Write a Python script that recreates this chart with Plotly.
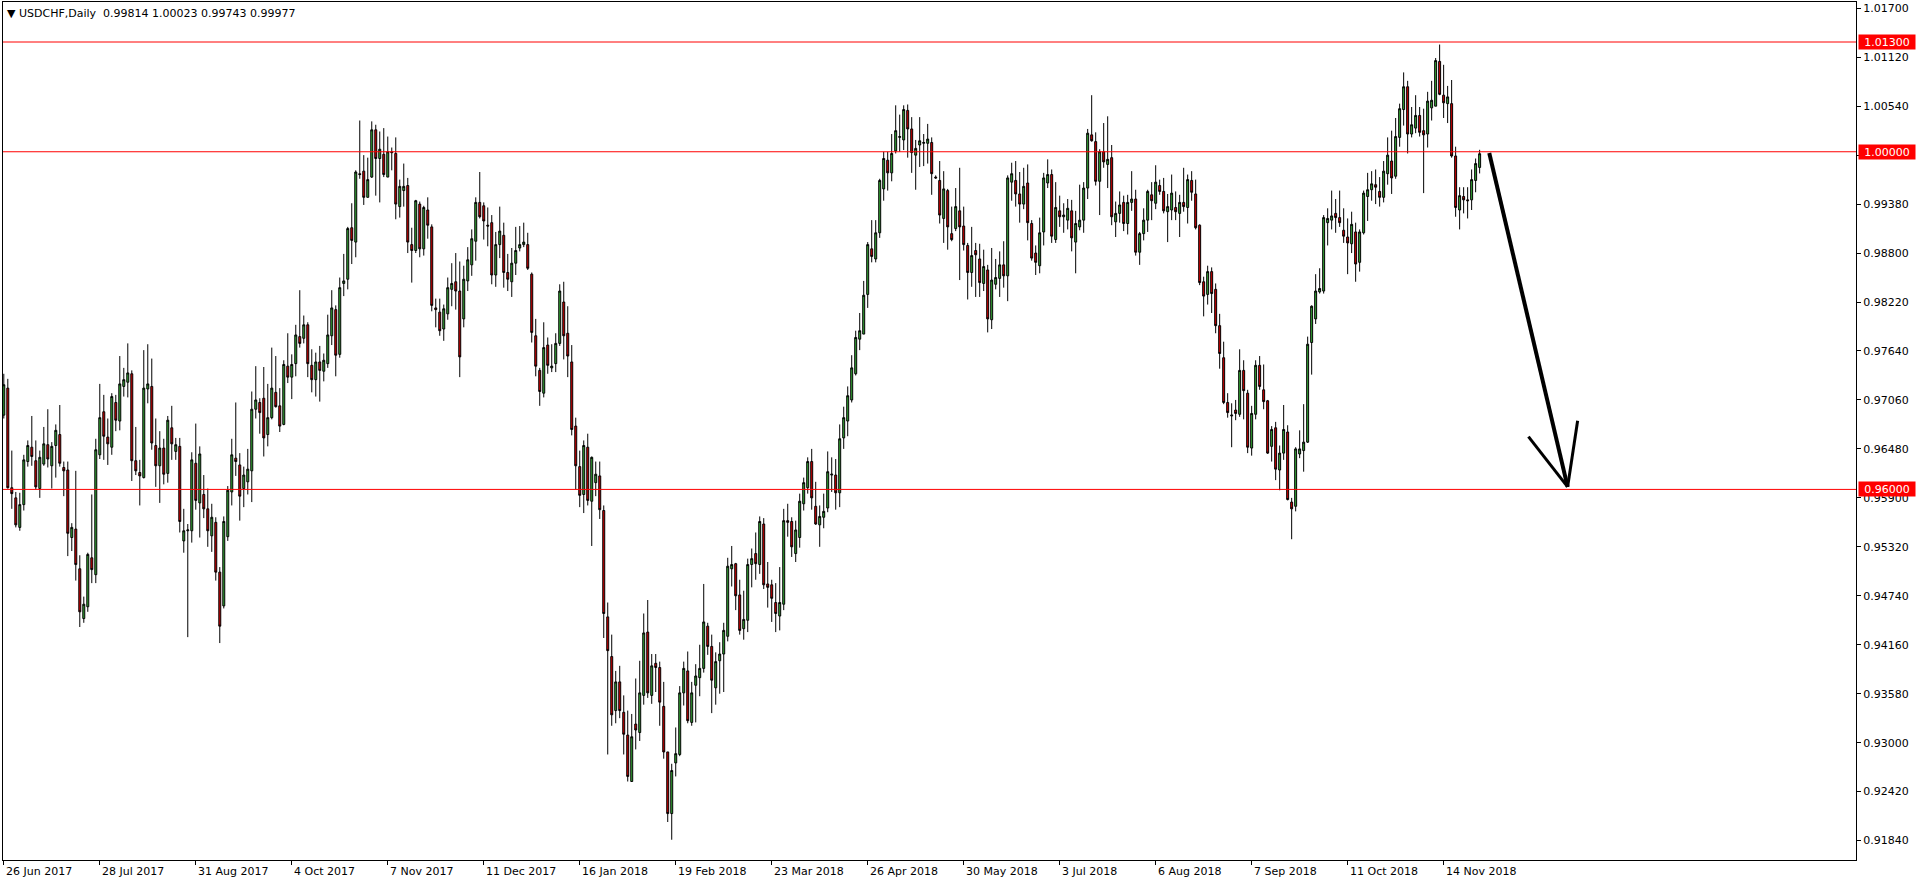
import plotly.graph_objects as go

# ---------------- data (USDCHF daily) ----------------
OPEN = [
0.9688,0.9720,0.9602,0.9590,0.9555,0.9582,0.9633,0.9650,0.9634,0.9601,
0.9630,0.9653,0.9628,0.9652,0.9665,0.9626,0.9623,0.9543,0.9553,0.9506,
0.9447,0.9461,0.9519,0.9499,0.9641,0.9692,0.9662,0.9650,0.9703,0.9681,
0.9722,0.9727,0.9737,0.9634,0.9620,0.9614,0.9719,0.9722,0.9652,0.9628,
0.9649,0.9619,0.9673,0.9645,0.9651,0.9539,0.9551,0.9551,0.9631,0.9584,
0.9594,0.9577,0.9545,0.9561,0.9502,0.9462,0.9544,0.9597,0.9637,0.9629,
0.9601,0.9609,0.9622,0.9695,0.9703,0.9708,0.9665,0.9685,0.9715,0.9699,
0.9677,0.9746,0.9733,0.9749,0.9781,0.9779,0.9795,0.9747,0.9730,0.9751,
0.9740,0.9749,0.9782,0.9813,0.9760,0.9844,0.9849,0.9910,0.9893,0.9974,
0.9977,0.9946,0.9970,1.0026,0.9992,0.9997,0.9970,1.0000,0.9998,0.9935,
0.9954,0.9960,0.9890,0.9883,0.9938,0.9885,0.9931,0.9911,0.9815,0.9810,
0.9790,0.9808,0.9837,0.9846,0.9835,0.9802,0.9847,0.9866,0.9894,0.9940,
0.9936,0.9913,0.9916,0.9854,0.9890,0.9901,0.9857,0.9846,0.9868,0.9886,
0.9890,0.9890,0.9855,0.9782,0.9741,0.9714,0.9771,0.9744,0.9749,0.9773,
0.9822,0.9785,0.9751,0.9675,0.9627,0.9594,0.9650,0.9586,0.9608,0.9616,
0.9575,0.9449,0.9402,0.9338,0.9372,0.9336,0.9309,0.9254,0.9322,0.9312,
0.9356,0.9431,0.9356,0.9394,0.9389,0.9343,0.9289,0.9216,0.9276,0.9286,
0.9359,0.9385,0.9324,0.9368,0.9377,0.9388,0.9438,0.9414,0.9365,0.9397,
0.9405,0.9426,0.9506,0.9512,0.9475,0.9435,0.9445,0.9511,0.9524,0.9511,
0.9559,0.9488,0.9487,0.9466,0.9450,0.9464,0.9563,0.9562,0.9524,0.9543,
0.9583,0.9602,0.9633,0.9580,0.9558,0.9567,0.9578,0.9617,0.9617,0.9596,
0.9661,0.9681,0.9706,0.9737,0.9778,0.9784,0.9831,0.9885,0.9873,0.9904,
0.9956,0.9990,0.9975,1.0001,1.0017,1.0014,1.0049,1.0027,0.9996,1.0008,
1.0010,1.0010,1.0011,0.9970,0.9966,0.9921,0.9954,0.9903,0.9909,0.9930,
0.9912,0.9889,0.9857,0.9883,0.9873,0.9844,0.9860,0.9801,0.9843,0.9850,
0.9866,0.9853,0.9964,0.9966,0.9950,0.9938,0.9963,0.9915,0.9880,0.9865,
0.9905,0.9963,0.9973,0.9896,0.9930,0.9923,0.9919,0.9930,0.9893,0.9911,
0.9919,0.9957,1.0020,1.0012,0.9965,1.0000,0.9985,0.9993,0.9917,0.9927,
0.9940,0.9915,0.9940,0.9944,0.9881,0.9903,0.9919,0.9949,0.9939,0.9960,
0.9953,0.9929,0.9931,0.9934,0.9927,0.9940,0.9934,0.9966,0.9950,0.9913,
0.9846,0.9831,0.9858,0.9837,0.9794,0.9756,0.9703,0.9687,0.9694,0.9689,
0.9741,0.9714,0.9649,0.9689,0.9747,0.9718,0.9705,0.9651,0.9673,0.9623,
0.9643,0.9668,0.9585,0.9580,0.9642,0.9646,0.9656,0.9774,0.9802,0.9834,
0.9835,0.9916,0.9919,0.9927,0.9922,0.9907,0.9899,0.9891,0.9905,0.9869,
0.9904,0.9947,0.9955,0.9961,0.9953,0.9946,0.9974,0.9989,0.9971,1.0017,
1.0050,1.0077,1.0021,1.0028,1.0043,1.0025,1.0021,1.0052,1.0054,1.0107,
1.0067,1.0057,1.0057,0.9995,0.9931,0.9947,0.9943,0.9943,0.9966,0.99814,
]
HIGH = [
0.9737,0.9731,0.9646,0.9597,0.9596,0.9641,0.9658,0.9687,0.9658,0.9646,
0.9674,0.9695,0.9656,0.9677,0.9700,0.9633,0.9633,0.9560,0.9622,0.9522,
0.9473,0.9525,0.9594,0.9660,0.9725,0.9712,0.9684,0.9714,0.9712,0.9758,
0.9744,0.9773,0.9741,0.9674,0.9635,0.9765,0.9772,0.9755,0.9684,0.9669,
0.9660,0.9687,0.9699,0.9661,0.9661,0.9577,0.9559,0.9644,0.9678,0.9651,
0.9617,0.9601,0.9583,0.9567,0.9508,0.9568,0.9604,0.9660,0.9703,0.9643,
0.9627,0.9648,0.9716,0.9746,0.9708,0.9745,0.9725,0.9768,0.9758,0.9720,
0.9753,0.9785,0.9760,0.9795,0.9836,0.9806,0.9798,0.9766,0.9762,0.9770,
0.9761,0.9807,0.9836,0.9818,0.9851,0.9879,0.9911,0.9939,0.9978,1.0037,
0.9996,0.9993,1.0036,1.0032,1.0024,1.0028,1.0018,1.0005,1.0017,0.9967,
0.9986,0.9969,0.9910,0.9943,0.9941,0.9936,0.9946,0.9914,0.9826,0.9826,
0.9819,0.9851,0.9868,0.9880,0.9870,0.9865,0.9887,0.9908,0.9946,0.9976,
0.9940,0.9934,0.9925,0.9905,0.9935,0.9916,0.9879,0.9886,0.9911,0.9912,
0.9916,0.9904,0.9857,0.9802,0.9744,0.9798,0.9780,0.9772,0.9785,0.9843,
0.9846,0.9817,0.9771,0.9685,0.9646,0.9658,0.9666,0.9639,0.9633,0.9633,
0.9581,0.9466,0.9428,0.9385,0.9391,0.9356,0.9338,0.9334,0.9376,0.9397,
0.9453,0.9469,0.9405,0.9405,0.9396,0.9372,0.9289,0.9275,0.9318,0.9367,
0.9396,0.9408,0.9372,0.9393,0.9416,0.9488,0.9442,0.9428,0.9407,0.9419,
0.9442,0.9519,0.9533,0.9513,0.9493,0.9480,0.9518,0.9530,0.9549,0.9568,
0.9566,0.9514,0.9493,0.9489,0.9508,0.9577,0.9583,0.9567,0.9563,0.9595,
0.9614,0.9638,0.9648,0.9609,0.9581,0.9595,0.9645,0.9638,0.9636,0.9677,
0.9698,0.9722,0.9759,0.9788,0.9809,0.9847,0.9893,0.9919,0.9919,0.9968,
1.0000,1.0000,1.0021,1.0055,1.0044,1.0055,1.0056,1.0041,1.0014,1.0041,
1.0021,1.0033,1.0017,0.9972,0.9989,0.9977,0.9956,0.9935,0.9957,0.9981,
0.9935,0.9892,0.9911,0.9892,0.9891,0.9884,0.9866,0.9886,0.9873,0.9882,
0.9894,0.9972,0.9987,0.9989,0.9976,0.9981,0.9985,0.9919,0.9889,0.9922,
0.9975,0.9991,0.9979,0.9964,0.9948,0.9939,0.9944,0.9943,0.9930,0.9961,
0.9964,1.0027,1.0067,1.0023,1.0003,1.0034,1.0042,1.0008,0.9941,0.9953,
0.9948,0.9949,0.9977,0.9955,0.9905,0.9933,0.9955,0.9964,0.9984,0.9967,
0.9969,0.9950,0.9973,0.9953,0.9949,0.9981,0.9973,0.9977,0.9967,0.9914,
0.9852,0.9865,0.9863,0.9844,0.9808,0.9775,0.9714,0.9702,0.9706,0.9766,
0.9753,0.9718,0.9699,0.9753,0.9758,0.9748,0.9706,0.9675,0.9680,0.9652,
0.9700,0.9676,0.9590,0.9650,0.9670,0.9701,0.9781,0.9818,0.9855,0.9862,
0.9925,0.9933,0.9954,0.9944,0.9954,0.9933,0.9921,0.9929,0.9916,0.9908,
0.9954,0.9975,0.9977,0.9979,0.9970,0.9989,1.0017,1.0025,1.0040,1.0057,
1.0094,1.0084,1.0053,1.0067,1.0053,1.0051,1.0071,1.0084,1.0111,1.0127,
1.0103,1.0078,1.0085,1.0006,0.9958,0.9958,0.9958,0.9979,0.9992,1.00023,
]
LOW = [
0.9684,0.9601,0.9577,0.9555,0.9551,0.9575,0.9627,0.9628,0.9600,0.9590,
0.9628,0.9626,0.9601,0.9614,0.9627,0.9592,0.9521,0.9527,0.9492,0.9437,
0.9442,0.9455,0.9489,0.9489,0.9636,0.9635,0.9629,0.9641,0.9669,0.9670,
0.9710,0.9709,0.9610,0.9617,0.9581,0.9613,0.9702,0.9647,0.9603,0.9584,
0.9606,0.9608,0.9635,0.9635,0.9549,0.9525,0.9425,0.9537,0.9576,0.9543,
0.9566,0.9532,0.9526,0.9492,0.9418,0.9459,0.9539,0.9581,0.9616,0.9563,
0.9579,0.9594,0.9585,0.9684,0.9666,0.9639,0.9651,0.9683,0.9697,0.9668,
0.9676,0.9726,0.9707,0.9734,0.9768,0.9773,0.9733,0.9715,0.9710,0.9704,
0.9728,0.9744,0.9771,0.9734,0.9756,0.9829,0.9837,0.9867,0.9875,0.9968,
0.9937,0.9946,0.9969,0.9948,0.9940,0.9970,0.9970,0.9978,0.9920,0.9922,
0.9935,0.9880,0.9845,0.9880,0.9875,0.9877,0.9897,0.9811,0.9792,0.9782,
0.9776,0.9801,0.9817,0.9813,0.9733,0.9792,0.9835,0.9853,0.9871,0.9921,
0.9896,0.9888,0.9843,0.9840,0.9874,0.9839,0.9835,0.9828,0.9854,0.9882,
0.9887,0.9860,0.9774,0.9734,0.9699,0.9709,0.9737,0.9739,0.9739,0.9770,
0.9754,0.9733,0.9664,0.9600,0.9579,0.9572,0.9581,0.9533,0.9592,0.9565,
0.9424,0.9286,0.9320,0.9323,0.9329,0.9286,0.9254,0.9254,0.9292,0.9302,
0.9345,0.9353,0.9346,0.9360,0.9320,0.9281,0.9206,0.9185,0.9260,0.9284,
0.9344,0.9323,0.9320,0.9324,0.9355,0.9383,0.9404,0.9335,0.9345,0.9358,
0.9360,0.9420,0.9485,0.9457,0.9428,0.9422,0.9431,0.9484,0.9493,0.9500,
0.9482,0.9460,0.9443,0.9431,0.9433,0.9457,0.9544,0.9520,0.9514,0.9531,
0.9575,0.9595,0.9576,0.9558,0.9532,0.9554,0.9573,0.9597,0.9576,0.9579,
0.9648,0.9663,0.9703,0.9735,0.9765,0.9784,0.9815,0.9869,0.9869,0.9898,
0.9942,0.9954,0.9965,0.9998,1.0000,1.0002,0.9993,0.9975,0.9955,0.9982,
0.9983,0.9986,0.9949,0.9968,0.9915,0.9892,0.9884,0.9894,0.9906,0.9848,
0.9883,0.9825,0.9840,0.9828,0.9828,0.9835,0.9786,0.9790,0.9837,0.9828,
0.9839,0.9823,0.9942,0.9935,0.9916,0.9932,0.9895,0.9871,0.9854,0.9856,
0.9889,0.9957,0.9892,0.9892,0.9911,0.9904,0.9908,0.9882,0.9856,0.9907,
0.9904,0.9944,1.0012,0.9960,0.9925,0.9981,0.9957,0.9913,0.9899,0.9916,
0.9906,0.9902,0.9930,0.9877,0.9866,0.9895,0.9905,0.9919,0.9932,0.9949,
0.9927,0.9893,0.9919,0.9919,0.9899,0.9929,0.9915,0.9942,0.9908,0.9842,
0.9805,0.9819,0.9809,0.9785,0.9743,0.9701,0.9685,0.9650,0.9682,0.9686,
0.9683,0.9643,0.9640,0.9683,0.9718,0.9695,0.9642,0.9633,0.9611,0.9599,
0.9635,0.9587,0.9541,0.9574,0.9637,0.9621,0.9655,0.9736,0.9796,0.9832,
0.9832,0.9889,0.9908,0.9904,0.9911,0.9892,0.9855,0.9880,0.9846,0.9858,
0.9902,0.9918,0.9942,0.9938,0.9935,0.9940,0.9961,0.9950,0.9968,1.0006,
1.0031,0.9998,1.0017,1.0022,1.0018,0.9951,1.0005,1.0037,1.0054,1.0067,
1.0040,1.0034,0.9993,0.9923,0.9908,0.9927,0.9921,0.9931,0.9952,0.99743,
]
CLOSE = [
0.9724,0.9602,0.9595,0.9558,0.9582,0.9635,0.9652,0.9639,0.9603,0.9638,
0.9654,0.9636,0.9651,0.9670,0.9631,0.9622,0.9548,0.9555,0.9511,0.9455,
0.9464,0.9523,0.9505,0.9647,0.9685,0.9663,0.9654,0.9710,0.9682,0.9725,
0.9730,0.9738,0.9634,0.9622,0.9616,0.9720,0.9725,0.9655,0.9628,0.9649,
0.9618,0.9682,0.9654,0.9653,0.9562,0.9551,0.9552,0.9635,0.9587,0.9642,
0.9577,0.9551,0.9567,0.9502,0.9438,0.9562,0.9599,0.9641,0.9633,0.9592,
0.9617,0.9624,0.9695,0.9706,0.9691,0.9661,0.9685,0.9720,0.9698,0.9675,
0.9748,0.9733,0.9748,0.9783,0.9773,0.9795,0.9749,0.9730,0.9751,0.9741,
0.9753,0.9783,0.9815,0.9759,0.9839,0.9847,0.9909,0.9895,0.9976,0.9973,
0.9946,0.9967,1.0026,0.9992,1.0003,0.9973,1.0000,0.9999,0.9938,0.9959,
0.9959,0.9893,0.9883,0.9942,0.9885,0.9934,0.9913,0.9818,0.9813,0.9788,
0.9814,0.9839,0.9844,0.9835,0.9757,0.9849,0.9872,0.9897,0.9940,0.9923,
0.9918,0.9912,0.9854,0.9890,0.9906,0.9857,0.9849,0.9868,0.9883,0.9890,
0.9893,0.9862,0.9786,0.9746,0.9716,0.9768,0.9747,0.9746,0.9773,0.9835,
0.9782,0.9758,0.9671,0.9628,0.9593,0.9652,0.9587,0.9638,0.9618,0.9576,
0.9453,0.9409,0.9333,0.9372,0.9338,0.9310,0.9260,0.9307,0.9315,0.9359,
0.9430,0.9359,0.9391,0.9389,0.9348,0.9289,0.9216,0.9267,0.9287,0.9359,
0.9388,0.9326,0.9359,0.9379,0.9388,0.9443,0.9414,0.9374,0.9396,0.9405,
0.9433,0.9509,0.9511,0.9474,0.9433,0.9446,0.9511,0.9518,0.9512,0.9562,
0.9487,0.9484,0.9471,0.9453,0.9466,0.9563,0.9561,0.9532,0.9552,0.9586,
0.9608,0.9633,0.9590,0.9559,0.9568,0.9574,0.9621,0.9618,0.9596,0.9660,
0.9685,0.9711,0.9744,0.9780,0.9788,0.9830,0.9890,0.9876,0.9904,0.9966,
0.9992,0.9975,0.9998,1.0025,1.0018,1.0050,1.0027,0.9999,1.0004,1.0013,
1.0011,1.0015,0.9974,0.9969,0.9925,0.9956,0.9911,0.9896,0.9935,0.9911,
0.9890,0.9857,0.9877,0.9878,0.9845,0.9864,0.9802,0.9848,0.9851,0.9866,
0.9853,0.9969,0.9974,0.9950,0.9938,0.9959,0.9916,0.9874,0.9869,0.9904,
0.9969,0.9973,0.9900,0.9934,0.9923,0.9925,0.9933,0.9898,0.9915,0.9919,
0.9957,1.0022,1.0013,0.9965,1.0000,0.9988,0.9991,0.9923,0.9927,0.9937,
0.9915,0.9940,0.9944,0.9881,0.9903,0.9919,0.9953,0.9942,0.9964,0.9953,
0.9930,0.9935,0.9951,0.9929,0.9940,0.9935,0.9967,0.9952,0.9910,0.9845,
0.9829,0.9858,0.9832,0.9794,0.9761,0.9703,0.9691,0.9688,0.9690,0.9741,
0.9717,0.9650,0.9690,0.9747,0.9722,0.9704,0.9643,0.9671,0.9624,0.9643,
0.9671,0.9588,0.9577,0.9648,0.9648,0.9656,0.9772,0.9817,0.9835,0.9838,
0.9922,0.9921,0.9924,0.9922,0.9916,0.9900,0.9892,0.9914,0.9867,0.9905,
0.9951,0.9955,0.9962,0.9958,0.9946,0.9977,0.9996,0.9969,1.0018,1.0051,
1.0077,1.0021,1.0032,1.0043,1.0023,1.0020,1.0060,1.0061,1.0108,1.0068,
1.0058,1.0065,0.9995,0.9934,0.9948,0.9943,0.9942,0.9967,0.9986,0.99977,
]

TICK_BARS = [0, 24, 48, 72, 96, 120, 144, 168, 192, 216, 240, 264, 288, 312, 336, 360]
TICK_LABELS = ["26 Jun 2017", "28 Jul 2017", "31 Aug 2017", "4 Oct 2017", "7 Nov 2017",
               "11 Dec 2017", "16 Jan 2018", "19 Feb 2018", "23 Mar 2018", "26 Apr 2018",
               "30 May 2018", "3 Jul 2018", "6 Aug 2018", "7 Sep 2018", "11 Oct 2018",
               "14 Nov 2018"]
PRICE_TICKS = [1.0170, 1.0112, 1.0054, 0.9996, 0.9938, 0.9880, 0.9822, 0.9764, 0.9706,
               0.9648, 0.9590, 0.9532, 0.9474, 0.9416, 0.9358, 0.9300, 0.9242, 0.9184]
LEVELS = [1.0130, 1.0000, 0.9600]
TITLE = "▼&nbsp;USDCHF,Daily&nbsp;&nbsp;0.99814 1.00023 0.99743 0.99977"

# hand-drawn arrow (bar index, price)
ARROW_SHAFT = [(371.4, 0.99985), (391.0, 0.96030)]
ARROW_HEAD = [(381.2, 0.96625), (391.0, 0.96030), (393.5, 0.96813)]

# ---------------- styles ----------------
FONT = "DejaVu Sans"
GREEN = "#36a936"
RED = "#d10000"
W, H = 1916, 884

bars = list(range(len(CLOSE)))

fig = go.Figure()
fig.add_trace(go.Candlestick(
    x=bars, open=OPEN, high=HIGH, low=LOW, close=CLOSE,
    increasing=dict(line=dict(color="black", width=1), fillcolor=GREEN),
    decreasing=dict(line=dict(color="black", width=1), fillcolor=RED),
    whiskerwidth=0, hoverinfo="skip", showlegend=False,
))

shapes = []
for lv in LEVELS:
    shapes.append(dict(type="line", xref="paper", x0=0, x1=1, yref="y", y0=lv, y1=lv,
                       line=dict(color="#ff0000", width=1), layer="above"))
(x0, y0), (x1, y1) = ARROW_SHAFT
shapes.append(dict(type="line", xref="x", yref="y", x0=x0, y0=y0, x1=x1, y1=y1,
                   line=dict(color="black", width=4)))
for i in range(len(ARROW_HEAD) - 1):
    (ax, ay), (bx, by) = ARROW_HEAD[i], ARROW_HEAD[i + 1]
    shapes.append(dict(type="line", xref="x", yref="y", x0=ax, y0=ay, x1=bx, y1=by,
                       line=dict(color="black", width=3)))

annotations = []
for lv in LEVELS:
    annotations.append(dict(
        xref="paper", x=1, xanchor="left", xshift=2, yref="y", y=lv, yanchor="middle",
        text=f"{lv:.5f}", showarrow=False, bgcolor="#ff0000", borderpad=1,
        width=54, height=12, align="center",
        font=dict(family=FONT, size=11, color="white")))
for b, lab in zip(TICK_BARS, TICK_LABELS):
    annotations.append(dict(
        xref="x", x=b, xanchor="left", yref="paper", y=0, yanchor="top", yshift=-3,
        text=lab, showarrow=False, font=dict(family=FONT, size=11, color="black")))
annotations.append(dict(
    xref="paper", x=0, xanchor="left", xshift=2, yref="paper", y=1, yanchor="top", yshift=-3,
    text=TITLE, showarrow=False, font=dict(family=FONT, size=11, color="black")))

fig.update_layout(
    width=W, height=H, autosize=False,
    margin=dict(l=3, r=60, t=2, b=24),
    paper_bgcolor="white", plot_bgcolor="white",
    showlegend=False, hovermode=False,
    font=dict(family=FONT, size=11, color="black"),
    shapes=shapes, annotations=annotations,
    xaxis=dict(range=[-0.2, 463.1], showgrid=False, zeroline=False,
               rangeslider=dict(visible=False),
               showline=True, linecolor="black", linewidth=1, mirror=True,
               tickmode="array", tickvals=TICK_BARS, showticklabels=False,
               ticks="outside", ticklen=4, tickcolor="black"),
    yaxis=dict(range=[0.91610, 1.01774], side="right", showgrid=False, zeroline=False,
               showline=True, linecolor="black", linewidth=1, mirror=True,
               tickmode="array", tickvals=PRICE_TICKS,
               ticktext=[f"{v:.5f}" for v in PRICE_TICKS],
               ticks="outside", ticklen=4, tickcolor="black",
               tickfont=dict(family=FONT, size=11, color="black")),
)

fig.write_html("out.html", config={"displayModeBar": False, "staticPlot": True},
               post_script="document.body.style.margin='0';document.body.style.overflow='hidden';")
